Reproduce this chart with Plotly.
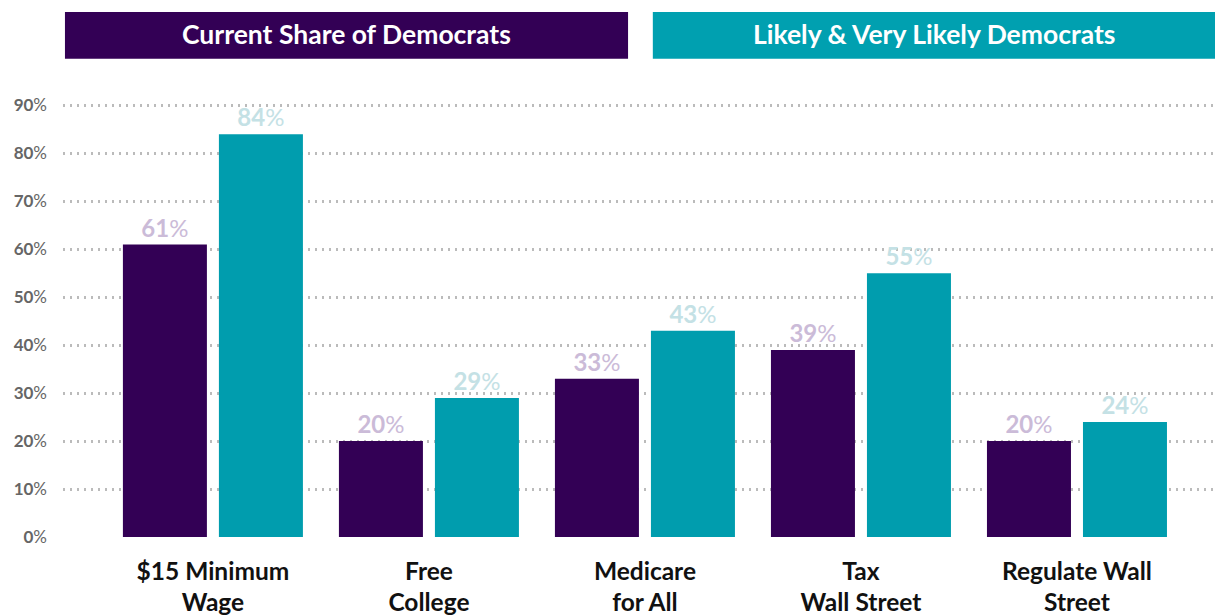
import plotly.graph_objects as go

categories = ["$15 Minimum<br>Wage", "Free<br>College", "Medicare<br>for All", "Tax<br>Wall Street", "Regulate Wall<br>Street"]
current_share = [61, 20, 33, 39, 20]
likely_share = [84, 29, 43, 55, 24]
y_ticks = [0, 10, 20, 30, 40, 50, 60, 70, 80, 90]
series_names = ["Current Share of Democrats", "Likely & Very Likely Democrats"]

PURPLE = "#330055"
TEAL = "#009DAE"
FONT = "Lato, 'Open Sans', sans-serif"

def pct(v):
    return f"<b>{v}</b>%"

fig = go.Figure()
fig.add_trace(go.Bar(
    x=categories, y=current_share, name=series_names[0],
    marker=dict(color=PURPLE, line=dict(width=0)),
    text=[pct(v) for v in current_share], textposition="outside",
    textfont=dict(color="#CBBBD8", size=24, family=FONT), cliponaxis=False,
))
fig.add_trace(go.Bar(
    x=categories, y=likely_share, name=series_names[1],
    marker=dict(color=TEAL, line=dict(width=0)),
    text=[pct(v) for v in likely_share], textposition="outside",
    textfont=dict(color="#C4E1E5", size=24, family=FONT), cliponaxis=False,
))

fig.update_layout(
    width=1215, height=616,
    margin=dict(l=63, r=0, t=12, b=76),
    paper_bgcolor="white", plot_bgcolor="white",
    barmode="group", bargap=0.1111, bargroupgap=0.125,
    showlegend=False,
    font=dict(family=FONT),
    xaxis=dict(
        range=[-0.694, 4.639], showgrid=False, zeroline=False, showline=False,
        ticks="", tickfont=dict(size=24.5, color="#111111", family=FONT, weight="bold"),
        ticklabelstandoff=17,
    ),
    yaxis=dict(
        range=[0, 109.49], tickmode="array", tickvals=y_ticks,
        ticktext=[pct(v) for v in y_ticks],
        tickfont=dict(size=17, color="#666666", family=FONT),
        showgrid=True, gridcolor="#BBBBBB", griddash="2px,5px", gridwidth=2.5,
        zeroline=False, showline=False, ticks="", ticklabelstandoff=15,
    ),
)

# header boxes
boxes = [(0.0017, 0.4905, PURPLE, series_names[0]), (0.512, 1.0, "#00A0B0", series_names[1])]
for x0, x1, col, label in boxes:
    fig.add_shape(type="rect", xref="paper", yref="paper", x0=x0, x1=x1, y0=0.911, y1=1.0,
                  fillcolor=col, line=dict(width=0), layer="above")
    fig.add_annotation(xref="paper", yref="paper", x=(x0 + x1) / 2, y=0.9585,
                       xanchor="center", yanchor="middle", text=f"<b>{label}</b>",
                       showarrow=False, font=dict(color="white", size=26.5, family=FONT))

fig.write_html("out.html", config={"displayModeBar": False},
               post_script="document.body.style.margin='0';document.body.style.padding='0';")
